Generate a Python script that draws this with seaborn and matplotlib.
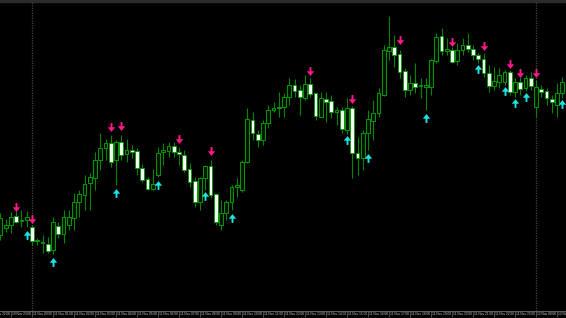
import numpy as np
import pandas as pd
import matplotlib
matplotlib.use("Agg")
import matplotlib.pyplot as plt
from matplotlib.path import Path
from matplotlib.patches import Rectangle
import seaborn as sns

# ---- M15 candles (price in points) ----
open_ = [85, 92, 95, 104, 99, 100, 93, 79, 77, 76,
         70, 94, 86, 95, 102, 118, 125, 137, 142, 160,
         172, 177, 160, 178, 166, 170, 169, 152, 141, 131,
         145, 168, 169, 174, 168, 165, 151, 139, 118, 142,
         154, 126, 95, 107, 118, 133, 130, 158, 200, 186,
         180, 197, 210, 212, 213, 223, 235, 230, 222, 236,
         227, 203, 221, 219, 208, 210, 190, 212, 167, 162,
         187, 199, 207, 225, 269, 273, 266, 249, 230, 237,
         234, 233, 233, 259, 284, 269, 270, 259, 270, 275,
         271, 265, 261, 247, 234, 238, 238, 248, 228, 238,
         232, 242, 213, 231, 229, 221, 215, 227]
close = [102, 95, 103, 98, 99, 103, 79, 80, 78, 69,
         98, 86, 103, 103, 118, 126, 136, 143, 160, 172,
         177, 158, 178, 165, 170, 168, 152, 140, 131, 136,
         167, 170, 174, 168, 166, 150, 138, 118, 142, 154,
         125, 98, 107, 118, 133, 135, 158, 201, 187, 180,
         197, 210, 212, 213, 223, 235, 229, 223, 236, 226,
         204, 222, 218, 208, 210, 191, 212, 167, 162, 187,
         201, 207, 227, 270, 273, 265, 248, 230, 237, 233,
         234, 235, 260, 283, 269, 271, 258, 270, 275, 271,
         265, 261, 247, 234, 239, 245, 248, 228, 238, 231,
         242, 234, 233, 228, 222, 218, 227, 238]
high = [107, 101, 108, 109, 110, 109, 95, 82, 85, 83,
        103, 98, 110, 110, 127, 130, 145, 147, 168, 187,
        181, 185, 180, 185, 181, 175, 172, 156, 143, 151,
        173, 177, 178, 178, 173, 170, 157, 143, 143, 155,
        160, 127, 120, 120, 135, 142, 160, 212, 208, 190,
        200, 215, 218, 228, 227, 242, 241, 235, 245, 242,
        227, 228, 228, 225, 213, 213, 222, 214, 183, 190,
        210, 220, 232, 275, 304, 285, 270, 252, 245, 257,
        242, 242, 261, 287, 292, 282, 273, 277, 282, 287,
        275, 267, 267, 255, 253, 252, 250, 250, 242, 243,
        245, 248, 240, 235, 232, 225, 237, 243]
low = [80, 88, 87, 97, 93, 93, 75, 75, 67, 67,
       66, 82, 77, 90, 90, 103, 110, 110, 130, 150,
       160, 153, 135, 160, 158, 162, 145, 138, 130, 130,
       143, 155, 163, 163, 155, 148, 133, 113, 110, 130,
       122, 95, 90, 100, 110, 123, 128, 157, 180, 173,
       175, 192, 208, 203, 203, 215, 223, 205, 220, 223,
       200, 203, 198, 202, 195, 187, 186, 142, 145, 150,
       170, 180, 203, 224, 260, 253, 242, 223, 225, 227,
       222, 210, 225, 257, 265, 265, 257, 255, 265, 268,
       260, 257, 243, 228, 230, 232, 235, 225, 223, 225,
       229, 230, 203, 223, 215, 207, 203, 222]

# ---- signal arrows ----
sell_bar = [3, 6, 21, 23, 34, 40, 59, 67, 76, 86, 92, 97, 99, 102]
sell_price = [113.5, 101.5, 193.5, 194.5, 181.5, 169.5, 249, 221, 280.5, 278.5, 274.5, 256.5, 247, 247]
buy_bar = [5, 10, 22, 30, 39, 44, 66, 70, 81, 91, 96, 98, 100, 107]
buy_price = [85, 58, 127, 135, 124, 102, 180.5, 162, 202, 251, 229, 217, 223, 216]

# ---- time axis ----
day_sep_bars = [6, 102]
tick_bars = [-2, 2, 6, 10, 14, 18, 22, 26, 30, 34, 38, 42, 46, 50, 54, 58,
             62, 66, 70, 74, 78, 82, 86, 90, 94, 98, 102, 106]
tick_labels = ["10 Nov 22:00", "10 Nov 23:00", "11 Nov 00:00", "11 Nov 01:00",
               "11 Nov 02:00", "11 Nov 03:00", "11 Nov 04:00", "11 Nov 05:00",
               "11 Nov 06:00", "11 Nov 07:00", "11 Nov 08:00", "11 Nov 09:00",
               "11 Nov 10:00", "11 Nov 11:00", "11 Nov 12:00", "11 Nov 13:00",
               "11 Nov 14:00", "11 Nov 15:00", "11 Nov 16:00", "11 Nov 17:00",
               "11 Nov 18:00", "11 Nov 19:00", "11 Nov 20:00", "11 Nov 21:00",
               "11 Nov 22:00", "11 Nov 23:00", "12 Nov 00:00", "12 Nov 01:00"]

df = pd.DataFrame({"open": open_, "high": high, "low": low, "close": close})
df["bar"] = np.arange(len(df))
df["bull"] = df["close"] >= df["open"]
df["bottom"] = df[["open", "close"]].min(axis=1)
df["height"] = (df["close"] - df["open"]).abs().clip(lower=0.9)

sns.set_theme(style="dark", rc={"axes.facecolor": "black", "figure.facecolor": "black"})
plt.rcParams["font.family"] = ["Liberation Sans", "DejaVu Sans"]

W, H = 566, 318
fig = plt.figure(figsize=(W / 100, H / 100), dpi=100)
fig.patch.set_facecolor("black")
fig.patches.append(Rectangle((0, 1 - 2 / H), 1, 2 / H, transform=fig.transFigure,
                             color="#2c2c2c", zorder=0))
ax = fig.add_axes([0, 7 / H, 1, 309 / H])
ax.set_facecolor("black")
ax.grid(False)

WICK = "#008800"
EDGE = "#009600"
for b in day_sep_bars:
    ax.axvline(b, color="#444444", lw=0.9, ls=(0, (1, 1)), zorder=0)

ax.vlines(df["bar"], df["low"], df["high"], color=WICK, lw=0.8, zorder=2)
bull = df[df["bull"]]
bear = df[~df["bull"]]
ax.bar(bull["bar"], bull["height"], bottom=bull["bottom"], width=0.7,
       color="#021202", edgecolor=EDGE, linewidth=0.75, zorder=3)
ax.bar(bear["bar"], bear["height"], bottom=bear["bottom"], width=0.7,
       color="#f2fff2", edgecolor=EDGE, linewidth=0.6, zorder=3)

down_arrow = Path([(-0.22, 1.0), (0.22, 1.0), (0.22, 0.05), (0.85, 0.05), (0.0, -1.0),
                   (-0.85, 0.05), (-0.22, 0.05), (-0.22, 1.0)],
                  [Path.MOVETO] + [Path.LINETO] * 6 + [Path.CLOSEPOLY])
up_arrow = Path([(x, -y) for x, y in down_arrow.vertices], down_arrow.codes)

sns.scatterplot(x=sell_bar, y=sell_price, marker=down_arrow, s=40, color="#ff1a8c",
                linewidth=0, ax=ax, zorder=5)
sns.scatterplot(x=buy_bar, y=buy_price, marker=up_arrow, s=40, color="#1ee3e3",
                linewidth=0, ax=ax, zorder=5)

for s in ["top", "left", "right"]:
    ax.spines[s].set_visible(False)
ax.spines["bottom"].set_color("#5c5c5c")
ax.spines["bottom"].set_linewidth(0.8)
ax.set_yticks([])
ax.set_xticks(tick_bars)
ax.set_xticklabels([])
ax.tick_params(axis="x", direction="out", length=4.5, width=0.5, color="#6a6a6a",
               bottom=True)
ax.set_xlabel("")
ax.set_ylabel("")
ax.set_xlim(-0.095, 107.71)
ax.set_ylim(9, 318)
trans = ax.get_xaxis_transform()
for b, lab in zip(tick_bars, tick_labels):
    ax.text(b + 0.2, -0.011, lab, transform=trans, ha="left", va="center",
            fontsize=2.3, color="#cccccc", clip_on=False)

fig.savefig("out.png", dpi=100, facecolor="black")
